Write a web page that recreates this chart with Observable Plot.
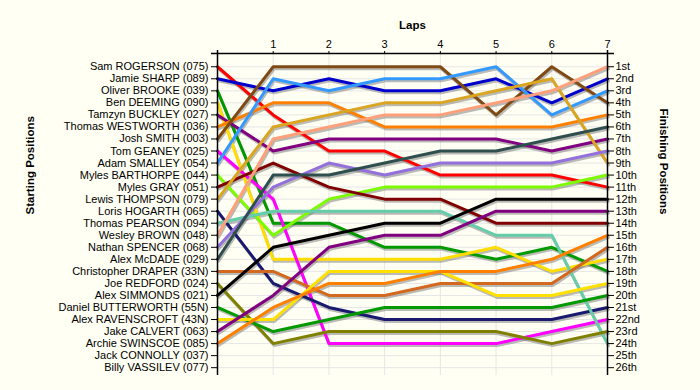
<!DOCTYPE html>
<html>
<head>
<meta charset="utf-8">
<script src="https://cdn.jsdelivr.net/npm/d3@7"></script>
<script src="https://cdn.jsdelivr.net/npm/@observablehq/plot@0.6"></script>
<style>
  html, body { margin: 0; padding: 0; background: #fffff4; }
  #chart { width: 700px; height: 390px; }
</style>
</head>
<body>
<div id="chart"></div>
<script>
// Starting grid (left axis), in starting order
const startNames = [
  "Sam ROGERSON (075)", "Jamie SHARP (089)", "Oliver BROOKE (039)", "Ben DEEMING (090)",
  "Tamzyn BUCKLEY (027)", "Thomas WESTWORTH (036)", "Josh SMITH (003)", "Tom GEANEY (025)",
  "Adam SMALLEY (054)", "Myles BARTHORPE (044)", "Myles GRAY (051)", "Lewis THOMPSON (079)",
  "Loris HOGARTH (065)", "Thomas PEARSON (094)", "Wesley BROWN (048)", "Nathan SPENCER (068)",
  "Alex McDADE (029)", "Christopher DRAPER (33N)", "Joe REDFORD (024)", "Alex SIMMONDS (021)",
  "Daniel BUTTERWORTH (55N)", "Alex RAVENSCROFT (43N)", "Jake CALVERT (063)", "Archie SWINSCOE (085)",
  "Jack CONNOLLY (037)", "Billy VASSILEV (077)"
];

// Finishing positions (right axis)
const finishLabels = [
  "1st", "2nd", "3rd", "4th", "5th", "6th", "7th", "8th", "9th", "10th", "11th", "12th", "13th",
  "14th", "15th", "16th", "17th", "18th", "19th", "20th", "21st", "22nd", "23rd", "24th", "25th", "26th"
];

const laps = [0, 1, 2, 3, 4, 5, 6, 7];
const lapTicks = [1, 2, 3, 4, 5, 6, 7];

// Line colour for each rider (same order as startNames; last two riders have no line)
const lineColors = [
  "#ff0000", "#0000cc", "#009900", "#ffdd00", "#800080", "#ff8000", "#7f4a14", "#ff00ff",
  "#3399ff", "#7cfc00", "#800000", "#daa520", "#191970", "#66cdaa", "#ffa07a", "#9370db",
  "#2f4f4f", "#d2691e", "#808000", "#000000", "#009900", "#ffe000", "#800080", "#ff8000"
];

// Position of each rider at laps 0..7 (same order as startNames)
const positions = [
  [1, 5, 8, 8, 10, 10, 10, 11],    // Sam ROGERSON
  [2, 3, 2, 3, 3, 2, 4, 2],        // Jamie SHARP
  [3, 14, 14, 16, 16, 17, 16, 18], // Oliver BROOKE
  [4, 17, 17, 17, 17, 16, 18, 17], // Ben DEEMING
  [5, 8, 7, 7, 7, 7, 8, 7],        // Tamzyn BUCKLEY
  [6, 4, 4, 6, 6, 6, 6, 5],        // Thomas WESTWORTH
  [7, 1, 1, 1, 1, 5, 1, 4],        // Josh SMITH
  [8, 12, 24, 24, 24, 24, 23, 22], // Tom GEANEY
  [9, 2, 3, 2, 2, 1, 5, 3],        // Adam SMALLEY
  [10, 15, 12, 11, 11, 11, 11, 10],// Myles BARTHORPE
  [11, 9, 11, 12, 12, 14, 14, 14], // Myles GRAY
  [12, 6, 5, 4, 4, 3, 2, 9],       // Lewis THOMPSON
  [13, 19, 21, 22, 22, 22, 22, 21],// Loris HOGARTH
  [14, 13, 13, 13, 13, 15, 15, 24],// Thomas PEARSON
  [15, 7, 6, 5, 5, 4, 3, 1],       // Wesley BROWN
  [16, 11, 9, 10, 9, 9, 9, 8],     // Nathan SPENCER
  [17, 10, 10, 9, 8, 8, 7, 6],     // Alex McDADE
  [18, 18, 20, 20, 19, 19, 19, 16],// Christopher DRAPER
  [19, 24, 23, 23, 23, 23, 24, 23],// Joe REDFORD
  [20, 16, 15, 14, 14, 12, 12, 12],// Alex SIMMONDS
  [21, 23, 22, 21, 21, 21, 21, 20],// Daniel BUTTERWORTH
  [22, 22, 18, 18, 18, 20, 20, 19],// Alex RAVENSCROFT
  [23, 20, 16, 15, 15, 13, 13, 13],// Jake CALVERT
  [24, 21, 19, 19, 18, 18, 17, 15] // Archie SWINSCOE
];

const rows = positions.flatMap((p, i) =>
  p.map((pos, j) => ({rider: startNames[i], lap: laps[j], pos, color: lineColors[i]}))
);
const ranks = d3.range(1, startNames.length + 1);
const yEdge = [-0.1, 26.65];
const font = "'Liberation Sans', Arial, sans-serif";

const chart = Plot.plot({
  width: 700,
  height: 390,
  marginLeft: 217,
  marginRight: 93,
  marginTop: 53,
  marginBottom: 15,
  style: {background: "#fffff4", fontFamily: font, fontSize: "11px", color: "#000", overflow: "visible"},
  x: {domain: [0, 7], axis: null, label: null},
  y: {domain: yEdge, reverse: true, axis: null, label: null},
  color: {type: "identity"},
  marks: [
    Plot.ruleY(ranks, {y: d => d, stroke: "#e6e6e6", strokeWidth: 1}),
    Plot.ruleX(lapTicks.slice(0, 6), {x: d => d, stroke: "#e6e6e6", strokeWidth: 1}),
    Plot.line(rows, {x: "lap", y: "pos", z: "rider", stroke: "#777", strokeWidth: 3, strokeOpacity: 0.5, dx: 1, dy: 2}),
    Plot.line(rows, {x: "lap", y: "pos", z: "rider", stroke: "color", strokeWidth: 3}),
    Plot.ruleX([0, 7], {x: d => d, stroke: "#000", strokeWidth: 1.5, insetTop: -3}),
    Plot.ruleY([yEdge[0]], {y: d => d, stroke: "#000", strokeWidth: 1.5, insetLeft: -6, insetRight: -7}),
    Plot.axisX({anchor: "top", ticks: lapTicks, tickSize: 3, tickPadding: 3, label: null, fontSize: 11, stroke: "#000",
      tickFormat: d => String(d)}),
    Plot.axisY({anchor: "left", ticks: ranks, tickSize: 6, tickPadding: 3, label: null, fontSize: 11,
      tickFormat: d => startNames[d - 1]}),
    Plot.axisY({anchor: "right", ticks: ranks, tickSize: 6, tickPadding: 2, label: null, fontSize: 11,
      tickFormat: d => finishLabels[d - 1]}),
    Plot.text(["Laps"], {text: d => d, frameAnchor: "top", dy: -33, fontWeight: "bold", fontSize: 11.5}),
    Plot.text(["Starting Positions"], {text: d => d, frameAnchor: "left", dx: -187, rotate: -90, fontWeight: "bold", fontSize: 11.5}),
    Plot.text(["Finishing Positions"], {text: d => d, frameAnchor: "right", dx: 56, rotate: 90, fontWeight: "bold", fontSize: 11.5})
  ]
});
document.getElementById("chart").appendChild(chart);
</script>
</body>
</html>
